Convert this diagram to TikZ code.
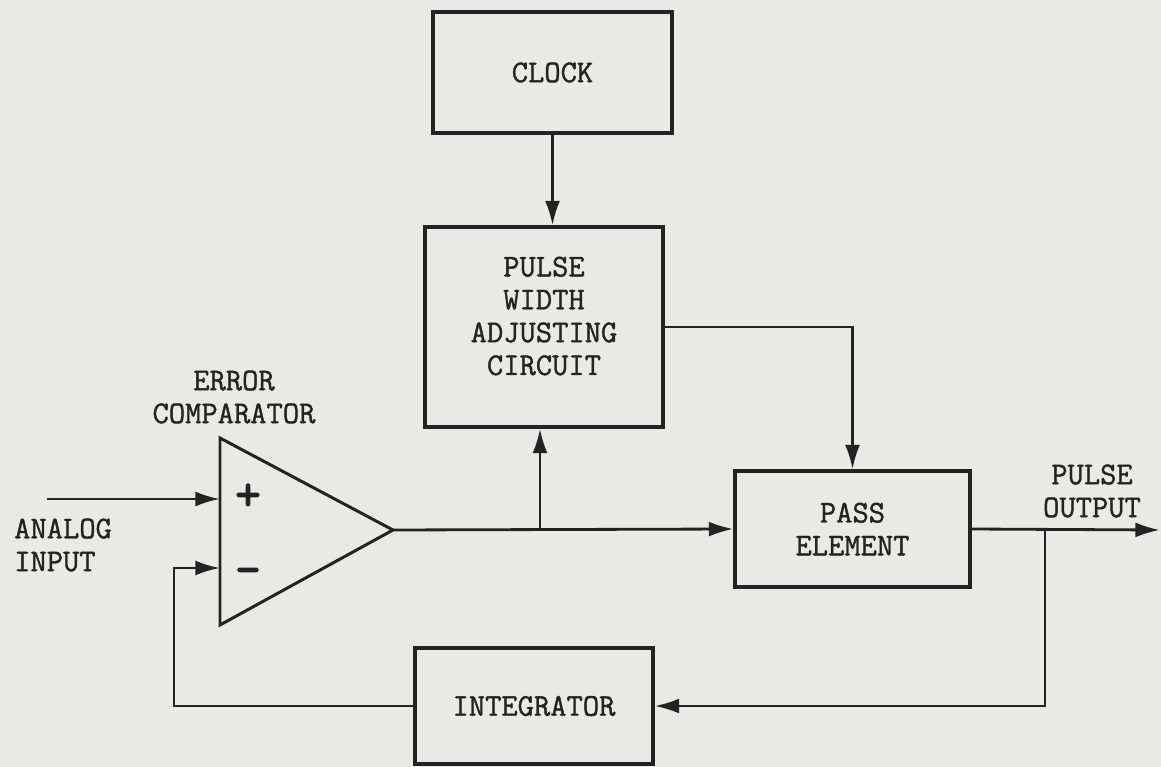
\documentclass[tikz,border=0pt]{standalone}
\usepackage{amsmath,bm}
\usepackage{fontspec}
\newfontfamily\typer{Latin Modern Mono}[FakeBold=1.2]
\newfontfamily\signs{Latin Modern Mono}[FakeBold=3]
\usepackage{tikz}
\usetikzlibrary{arrows.meta, positioning, calc}

\definecolor{paper}{RGB}{233,233,229}
\definecolor{ink}{RGB}{35,35,35}

\begin{document}
\begin{tikzpicture}[x=0.02cm, y=-0.02cm,
  every node/.style={font=\typer\fontsize{18}{18.7}\selectfont, text=ink},
  block/.style={draw=ink, line width=1.8pt, align=center, inner sep=0pt},
  wire/.style={draw=ink, line width=1.6pt},
  sig/.style={wire, -{Latex[length=14pt,width=8.5pt]}},
  sign/.style={font=\signs\fontsize{28}{28}\selectfont, inner sep=0pt}]
  \fill[paper] (0,0) rectangle (1161,767);
  \useasboundingbox (0,0) rectangle (1161,767);

  % blocks
  \node[block, minimum width=4.78cm, minimum height=2.42cm] (clock) at (552.5,72.5) {CLOCK};
  \node[block, minimum width=4.76cm, minimum height=4.0cm] (pwac) at (544,327)
    {PULSE\\WIDTH\\ADJUSTING\\CIRCUIT\\[-6pt]};
  \node[block, minimum width=4.7cm, minimum height=2.32cm] (pass) at (852.5,529) {PASS\\ELEMENT};
  \node[block, minimum width=4.76cm, minimum height=2.32cm] (integ) at (534,706) {INTEGRATOR};

  % error comparator
  \coordinate (cmpTop) at (220,438);
  \coordinate (cmpBot) at (220,625);
  \coordinate (cmpOut) at (393,530);
  \coordinate (cmpPlus) at (220,499);
  \coordinate (cmpMinus) at (220,568);
  \draw[wire, line width=1.7pt, line join=miter] (cmpTop) -- (cmpOut) -- (cmpBot) -- cycle;
  \node[sign] (plus) at (248,497) {+};
  \node[sign, anchor=base] (minus) at (248,585) {–};
  \node[align=center] (cmplab) at (234,397) {ERROR\\COMPARATOR};

  % free ends and taps
  \coordinate (ain) at (47,499);
  \coordinate (br) at (540,530);
  \coordinate (tap) at (1045,530);
  \coordinate (pout) at (1160,530);
  \coordinate (fbl) at (174,568);
  \node[anchor=west, align=left] (ainlab) at (8,545) {ANALOG\\INPUT};
  \node[align=center] (poutlab) at (1092,491) {PULSE\\OUTPUT};

  % connectors
  \draw[sig] (ain) -- (cmpPlus);
  \draw[sig] (clock.south) -- (clock.south |- pwac.north);
  \draw[sig] (cmpOut) -- (pass.west);
  \draw[sig] (br) -- (br |- pwac.south);
  \draw[sig] (pwac.east) -| (pass.north);
  \draw[sig] (pass.east) -- (pout);
  \draw[sig] (tap) |- (integ.east);
  \draw[sig] (integ.west) -| (fbl) -- (cmpMinus);
\end{tikzpicture}
\end{document}
